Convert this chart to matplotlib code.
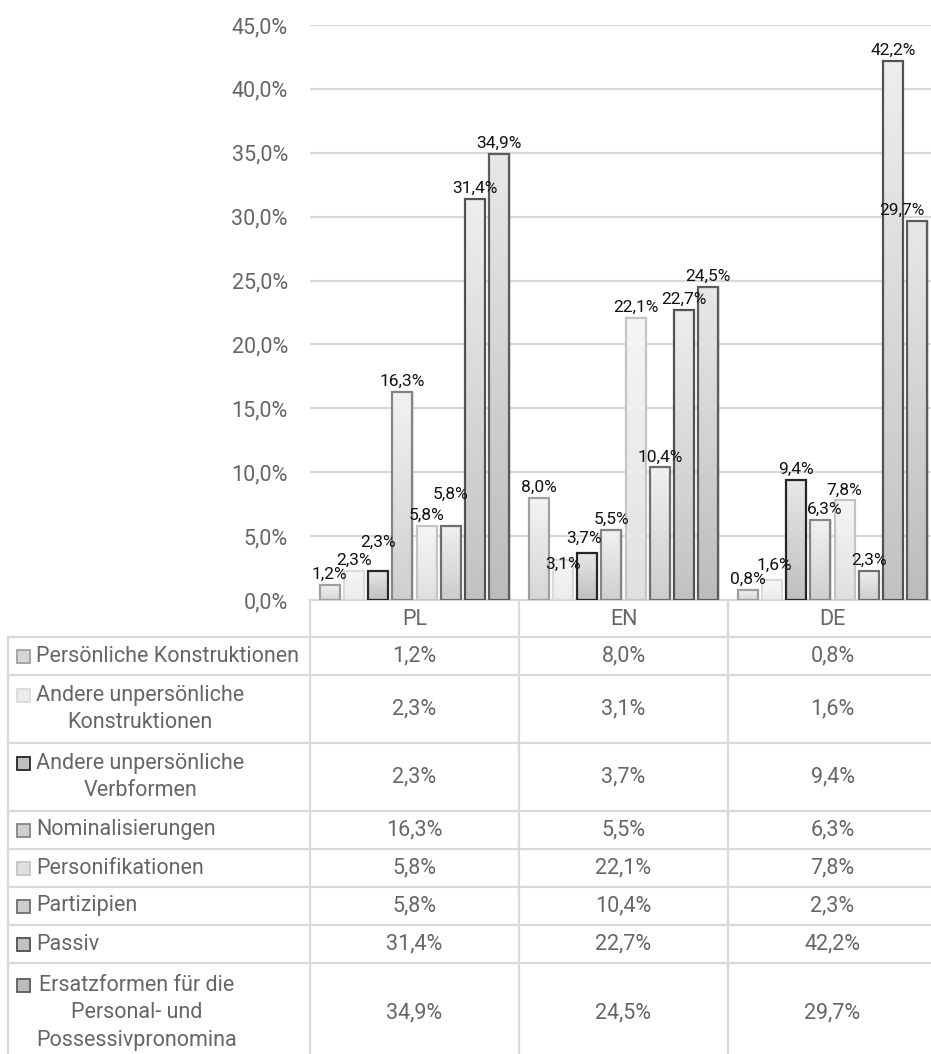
import matplotlib

matplotlib.use("Agg")
import matplotlib.pyplot as plt
import numpy as np
from matplotlib.colors import LinearSegmentedColormap
from matplotlib.lines import Line2D
from matplotlib.patches import Rectangle

plt.rcParams["font.family"] = ["Roboto", "DejaVu Sans"]

languages = ["PL", "EN", "DE"]
series_names = [
    "Persönliche Konstruktionen",
    "Andere unpersönliche\nKonstruktionen",
    "Andere unpersönliche\nVerbformen",
    "Nominalisierungen",
    "Personifikationen",
    "Partizipien",
    "Passiv",
    "Ersatzformen für die\nPersonal- und\nPossessivpronomina",
]
values_pl = [1.2, 2.3, 2.3, 16.3, 5.8, 5.8, 31.4, 34.9]
values_en = [8.0, 3.1, 3.7, 5.5, 22.1, 10.4, 22.7, 24.5]
values_de = [0.8, 1.6, 9.4, 6.3, 7.8, 2.3, 42.2, 29.7]
y_ticks = [0, 5, 10, 15, 20, 25, 30, 35, 40, 45]

# per-series look: edge, gradient top, gradient bottom
edge_colors = ["#a0a0a0", "#dadada", "#262626", "#858585", "#c4c4c4", "#6e6e6e", "#525252", "#5c5c5c"]
top_colors = ["#f4f4f4", "#f7f7f7", "#e8e8e8", "#f2f2f2", "#f6f6f6", "#f0f0f0", "#eeeeee", "#e8e8e8"]
bottom_colors = ["#d6d6d6", "#ebebeb", "#bfbfbf", "#cfcfcf", "#e0e0e0", "#cdcdcd", "#c2c2c2", "#bcbcbc"]

# label nudges (points) for crowded labels: (series, category) -> (dx, dy)
label_nudge = {(2, 0): (0, 13), (5, 0): (0, 15), (1, 1): (0, -10), (7, 2): (-11, 0),
               (1, 2): (2, 3), (3, 2): (3, 0), (2, 1): (-2, 3)}

GRID = "#d9d9d9"
TEXT = "#666666"
FS = 15.5
W, H = 931, 1054

fig = plt.figure(figsize=(W / 100, H / 100), dpi=100)
fig.patch.set_facecolor("white")

ax = fig.add_axes([310 / W, 1 - 600 / H, 627 / W, 575 / H])
ax.set_xlim(-0.5, 2.5)
ax.set_ylim(0, 45)
for s in ax.spines.values():
    s.set_visible(False)
ax.set_yticks(y_ticks)
ax.set_yticklabels([f"{t:.1f}%".replace(".", ",") for t in y_ticks], color=TEXT, fontsize=FS)
ax.tick_params(axis="y", length=0, pad=16)
ax.set_xticks([])
ax.yaxis.grid(True, color=GRID, linewidth=1.6)
ax.set_axisbelow(True)

data = np.array([values_pl, values_en, values_de])
x = np.arange(len(languages))
step, width = 0.116, 0.096
grad = np.linspace(0, 1, 256).reshape(-1, 1)

for j in range(len(series_names)):
    offs = (j - 3.5) * step
    bars = ax.bar(x + offs, data[:, j], width, facecolor="none", edgecolor=edge_colors[j],
                  linewidth=1.6, zorder=4)
    cmap = LinearSegmentedColormap.from_list(f"s{j}", [bottom_colors[j], top_colors[j]])
    for i, b in enumerate(bars):
        # soft drop shadow behind the bar
        ax.bar(b.get_x() + b.get_width() / 2 + 0.006, b.get_height(), width,
               color="#000000", alpha=0.10, linewidth=0, zorder=2)
        im = ax.imshow(grad, extent=[b.get_x(), b.get_x() + b.get_width(), 0, b.get_height()],
                       origin="lower", aspect="auto", cmap=cmap, zorder=3)
        im.set_clip_path(b)
        dx, dy = label_nudge.get((j, i), (0, 0))
        ax.annotate(f"{data[i, j]:.1f}%".replace(".", ","),
                    (b.get_x() + b.get_width() / 2, b.get_height()),
                    xytext=(dx, 2 + dy), textcoords="offset points",
                    ha="center", va="bottom", fontsize=12.5, color="#111111", zorder=6)

ax.set_xlim(-0.5, 2.5)
ax.set_ylim(0, 45)

# data table underneath, drawn in figure pixel coordinates
tab = fig.add_axes([0, 0, 1, 1], zorder=-1)
tab.set_xlim(0, W)
tab.set_ylim(H, 0)
tab.axis("off")

fig.canvas.draw()
col_edges = [ax.transData.transform((i - 0.5, 0))[0] for i in range(len(languages) + 1)]
col_edges = [e * W / fig.bbox.width for e in col_edges]
axis_y = 600
table_left = 8
row_h = {1: 38, 2: 68, 3: 100}

row_tops = [637]
for name in series_names:
    row_tops.append(row_tops[-1] + row_h[name.count("\n") + 1])

line_kw = dict(color=GRID, linewidth=1.6)
tab.add_line(Line2D([col_edges[0], W], [axis_y, axis_y], **line_kw))
for yt in row_tops[:-1]:
    tab.add_line(Line2D([table_left, W], [yt, yt], **line_kw))
for xe in col_edges:
    tab.add_line(Line2D([xe, xe], [axis_y, H], **line_kw))
tab.add_line(Line2D([table_left, table_left], [row_tops[0], H], **line_kw))

text_kw = dict(fontsize=FS, color=TEXT)
for i, lang in enumerate(languages):
    cx = (col_edges[i] + col_edges[i + 1]) / 2
    tab.text(cx, (axis_y + row_tops[0]) / 2 + 1, lang, ha="center", va="center", **text_kw)

for j, name in enumerate(series_names):
    top, bot = row_tops[j], row_tops[j + 1]
    cy = (top + bot) / 2
    nlines = name.count("\n") + 1
    first_line_y = cy - (nlines - 1) * 14.2
    tab.add_patch(Rectangle((17, first_line_y - 6), 13, 13, facecolor=bottom_colors[j],
                            edgecolor=edge_colors[j], linewidth=1.3))
    tab.text(36, cy, name, ha="left", va="center", multialignment="center",
             linespacing=1.4, **text_kw)
    for i in range(len(languages)):
        cx = (col_edges[i] + col_edges[i + 1]) / 2
        tab.text(cx, cy, f"{data[i, j]:.1f}%".replace(".", ","), ha="center", va="center", **text_kw)

fig.savefig("out.png", dpi=100, facecolor="white")
